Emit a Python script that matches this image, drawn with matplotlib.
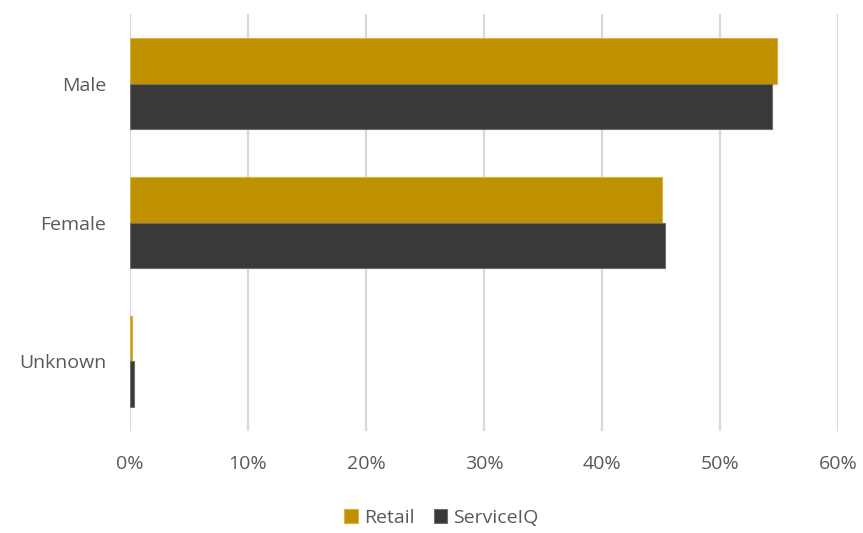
import numpy as np
import matplotlib.pyplot as plt
from matplotlib.ticker import PercentFormatter

plt.rcParams['font.family'] = ['Open Sans', 'DejaVu Sans']

categories = ['Male', 'Female', 'Unknown']
retail = [54.8, 45.1, 0.2]
serviceiq = [54.4, 45.3, 0.35]

fig = plt.figure(figsize=(8.63, 5.33), dpi=100)
ax = fig.add_axes([0.1506, 0.1914, 0.8204, 0.7823])

y = np.arange(len(categories))
h = 0.33
ax.barh(y - h / 2, retail, height=h, color='#BF9000', edgecolor='#D9B440',
        linewidth=0.8, label='Retail', zorder=3)
ax.barh(y + h / 2, serviceiq, height=h, color='#3A3838', edgecolor='#6E6E6E',
        linewidth=0.8, label='ServiceIQ', zorder=3)

ax.set_yticks(y)
ax.set_yticklabels(categories)
ax.set_ylim(2.5, -0.5)
ax.set_xlim(0, 60)
ax.set_xticks(np.arange(0, 61, 10))
ax.xaxis.set_major_formatter(PercentFormatter(decimals=0))
ax.grid(axis='x', color='#D9D9D9', linewidth=1.6, zorder=0)
for s in ax.spines.values():
    s.set_visible(False)
ax.tick_params(length=0, labelsize=14, labelcolor='#595959')
ax.tick_params(axis='x', pad=17)
ax.tick_params(axis='y', pad=17)

ax.legend(loc='upper center', bbox_to_anchor=(0.44, -0.145), ncol=2,
          frameon=False, fontsize=14, labelcolor='#595959',
          handlelength=0.7, handleheight=0.7, handletextpad=0.3,
          columnspacing=1.0)

fig.savefig('out.png', dpi=100)
